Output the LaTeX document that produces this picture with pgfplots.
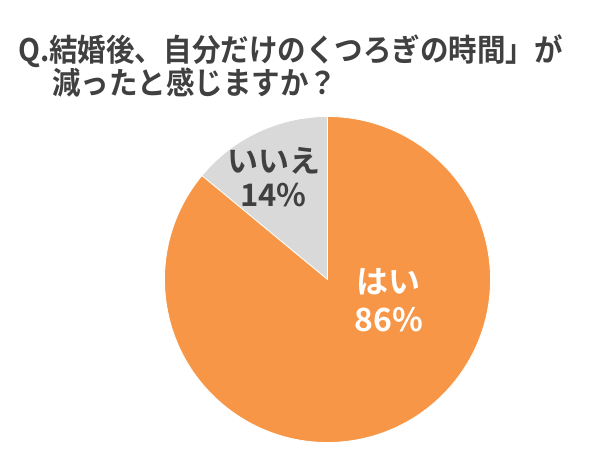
\documentclass[border=0pt]{standalone}
\usepackage{fontspec}
\setmainfont{Noto Sans CJK JP}[BoldFont={* Bold}]
\usepackage{pgfplots}
\usepackage{pgfplotstable}
\pgfplotsset{compat=1.18}
\definecolor{hai}{HTML}{F79646}
\definecolor{iie}{HTML}{D9D9D9}
\definecolor{txt}{HTML}{404040}

% share of answers (%)
\pgfplotstableread{
label value
hai 86
iie 14
}\piedata

\begin{document}
\begin{tikzpicture}
\pgfplotstablegetelem{0}{value}\of\piedata \let\vhai\pgfplotsretval
\pgfplotstablegetelem{1}{value}\of\piedata \let\viie\pgfplotsretval
\pgfmathsetmacro\aiie{90+3.6*\viie}
\pgfmathsetmacro\ahai{\aiie+3.6*\vhai}
\path[use as bounding box] (0,0) rectangle (605bp,471bp);

\node[anchor=base west, inner sep=0, text=txt, font=\bfseries\fontsize{31bp}{32bp}\selectfont]
  at (18bp,409bp) {\scalebox{0.92}[1]{Q.結婚後、自分だけのくつろぎの時間」が}};
\node[anchor=base west, inner sep=0, text=txt, font=\bfseries\fontsize{31bp}{32bp}\selectfont]
  at (52bp,376bp) {\scalebox{0.92}[1]{減ったと感じますか？}};

\begin{axis}[
    hide axis, scale only axis,
    width=326bp, height=326bp,
    xmin=-1, xmax=1, ymin=-1, ymax=1,
    at={(327.5bp,191.5bp)}, anchor=origin,
    clip=false,
  ]
  % いいえ
  \filldraw[fill=iie, draw=white, line width=0.8bp]
    (axis cs:0,0) -- ++(90:163bp) arc[start angle=90, end angle=\aiie, radius=163bp] -- cycle;
  % はい
  \filldraw[fill=hai, draw=white, line width=0.8bp]
    (axis cs:0,0) -- ++(\aiie:163bp) arc[start angle=\aiie, end angle=\ahai, radius=163bp] -- cycle;

  \node[text=txt, align=center, inner sep=0, font=\bfseries\fontsize{31bp}{34bp}\selectfont]
    at (axis cs:-0.331,0.629) {いいえ\\\viie\%};
  \node[text=white, align=center, inner sep=0, font=\bfseries\fontsize{32bp}{38bp}\selectfont]
    at (axis cs:0.377,-0.126) {はい\\\vhai\%};
\end{axis}
\end{tikzpicture}
\end{document}
